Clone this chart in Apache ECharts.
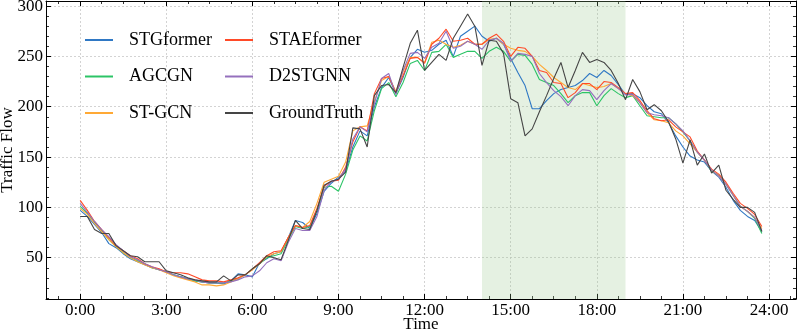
<!DOCTYPE html>
<html>
<head>
<meta charset="utf-8">
<script src="https://cdn.jsdelivr.net/npm/echarts@6/dist/echarts.min.js"></script>
<style>
  html, body { margin: 0; padding: 0; background: #fff; }
  #chart { width: 797px; height: 335px; }
</style>
</head>
<body>
<div id="chart"></div>
<script>
// 15 分钟采样，一天 96 个点（单位：小时）
const times = [];
for (let i = 0; i < 96; i++) times.push(i * 0.25);

// 高亮区间（小时）
const shadeStart = 14;
const shadeEnd = 19;

const stgformer = [
  97, 91, 83, 75, 64, 60, 54, 49, 46, 43, 40, 38,
  36, 33, 31, 29, 27, 26, 25, 25, 24, 27, 34, 33,
  31, 45, 49, 54, 56, 70, 87, 85, 79, 94, 116, 124,
  130, 136, 160, 176, 171, 200, 219, 229, 213, 229, 249, 257,
  254, 256, 262, 266, 250, 270, 275, 280, 270, 265, 268, 262,
  248, 234, 221, 198, 198, 206, 213, 217, 219, 221, 226, 233,
  229, 236, 231, 222, 212, 213, 209, 201, 195, 193, 184, 171,
  160, 151, 147, 145, 136, 130, 120, 107, 97, 91, 87, 76
];
const agcgn = [
  101, 94, 85, 77, 68, 61, 55, 50, 47, 44, 40, 38,
  36, 33, 31, 29, 27, 26, 25, 25, 25, 27, 29, 33,
  39, 44, 50, 52, 54, 68, 81, 79, 81, 97, 120, 121,
  116, 133, 157, 171, 166, 196, 218, 224, 210, 224, 243, 246,
  236, 254, 255, 262, 249, 252, 255, 255, 248, 255, 259, 255,
  245, 252, 251, 242, 227, 224, 221, 213, 204, 211, 214, 214,
  201, 211, 218, 213, 209, 211, 201, 191, 190, 189, 189, 183,
  175, 166, 155, 147, 136, 132, 123, 112, 101, 96, 89, 74
];
const stgcn = [
  99, 93, 84, 76, 68, 61, 55, 50, 46, 43, 40, 38,
  35, 32, 30, 28, 26, 23, 23, 22, 23, 26, 29, 33,
  38, 44, 51, 54, 56, 70, 82, 80, 86, 104, 125, 128,
  131, 145, 176, 180, 181, 205, 226, 230, 215, 235, 249, 249,
  244, 264, 266, 262, 259, 261, 265, 262, 262, 267, 268, 262,
  258, 256, 255, 250, 242, 236, 229, 224, 219, 217, 223, 221,
  219, 220, 223, 218, 213, 211, 204, 194, 187, 186, 184, 176,
  171, 163, 155, 147, 137, 131, 123, 112, 101, 96, 90, 79
];
const staeformer = [
  107, 97, 86, 78, 70, 62, 57, 52, 49, 44, 41, 39,
  36, 35, 35, 34, 31, 28, 27, 27, 26, 28, 30, 33,
  39, 45, 52, 56, 57, 70, 82, 80, 82, 99, 121, 126,
  127, 140, 165, 180, 176, 213, 228, 230, 214, 231, 248, 249,
  243, 262, 268, 277, 265, 266, 268, 262, 262, 268, 272, 265,
  250, 259, 258, 250, 236, 234, 224, 223, 209, 214, 223, 223,
  217, 225, 224, 219, 213, 214, 206, 196, 188, 186, 187, 180,
  175, 170, 156, 147, 138, 133, 125, 114, 104, 99, 93, 81
];
const d2stgnn = [
  104, 95, 86, 78, 71, 63, 57, 51, 48, 44, 41, 38,
  36, 33, 31, 29, 28, 26, 25, 25, 25, 26, 28, 31,
  32, 37, 45, 49, 47, 65, 79, 77, 77, 91, 117, 126,
  128, 138, 168, 180, 175, 203, 228, 233, 212, 236, 253, 254,
  248, 259, 263, 275, 258, 260, 265, 262, 257, 266, 268, 263,
  245, 253, 252, 250, 233, 224, 216, 210, 201, 211, 217, 216,
  207, 216, 223, 218, 212, 212, 204, 194, 192, 191, 189, 183,
  176, 166, 155, 147, 137, 131, 123, 112, 101, 96, 90, 77
];
const groundTruth = [
  91, 91, 78, 74, 74, 62, 57, 52, 51, 46, 46, 46,
  37, 35, 33, 30, 28, 27, 26, 26, 32, 27, 33, 33,
  39, 44, 52, 50, 48, 67, 87, 79, 78, 97, 122, 126,
  128, 135, 179, 178, 160, 211, 221, 222, 214, 239, 263, 276,
  236, 244, 252, 246, 268, 280, 292, 280, 241, 266, 265, 253,
  208, 204, 171, 178, 195, 211, 228, 244, 219, 236, 254, 244,
  247, 244, 236, 223, 207, 227, 215, 197, 202, 196, 185, 168,
  144, 167, 142, 153, 134, 142, 117, 108, 100, 100, 95, 76
];

const seriesDefs = [
  { name: 'STGformer', data: stgformer, color: '#2f78c4' },
  { name: 'AGCGN', data: agcgn, color: '#2cc466' },
  { name: 'ST-GCN', data: stgcn, color: '#ffa935' },
  { name: 'STAEformer', data: staeformer, color: '#ff4a28' },
  { name: 'D2STGNN', data: d2stgnn, color: '#9570bd' },
  { name: 'GroundTruth', data: groundTruth, color: '#454545' }
];

const FONT = 'Liberation Serif';

function xLabel(v) {
  if (Math.abs(v % 3) > 1e-6) return '';
  return Math.round(v) + ':00';
}
function yLabel(v) {
  if (Math.abs(v % 50) > 1e-6) return '';
  return String(Math.round(v));
}

const chart = echarts.init(document.getElementById('chart'), null, { renderer: 'canvas' });

const tickStyle = { lineStyle: { color: '#000', width: 1 } };
const gridLine = { show: true, lineStyle: { color: '#c8c8c8', type: [2, 2], width: 0.8 } };

function makeX(pos, main) {
  return {
    type: 'value',
    position: pos,
    min: -1.19,
    max: 24.94,
    splitNumber: 8,
    name: main ? 'Time' : '',
    nameLocation: 'middle',
    nameGap: 17,
    nameMoveOverlap: false,
    nameTextStyle: { fontFamily: FONT, fontSize: 17, color: '#000' },
    axisLine: { show: true, onZero: false, lineStyle: { color: '#000', width: 1 } },
    axisTick: { show: true, inside: true, length: 5, ...tickStyle },
    minorTick: { show: true, splitNumber: 4, length: 3, lineStyle: { color: '#000', width: 0.8 } },
    splitLine: main ? gridLine : { show: false },
    axisLabel: {
      show: main, formatter: xLabel, margin: 3,
      fontFamily: FONT, fontSize: 17, color: '#000',
      showMinLabel: false, showMaxLabel: false
    }
  };
}
function makeY(pos, main) {
  return {
    type: 'value',
    position: pos,
    min: 9,
    max: 305,
    splitNumber: 6,
    name: main ? 'Traffic Flow' : '',
    nameLocation: 'middle',
    nameGap: 30,
    nameMoveOverlap: false,
    nameTextStyle: { fontFamily: FONT, fontSize: 17, color: '#000' },
    axisLine: { show: true, onZero: false, lineStyle: { color: '#000', width: 1 } },
    axisTick: { show: true, inside: true, length: 5, ...tickStyle },
    minorTick: { show: true, splitNumber: 5, length: 3, lineStyle: { color: '#000', width: 0.8 } },
    splitLine: main ? gridLine : { show: false },
    axisLabel: {
      show: main, formatter: yLabel, margin: 3,
      fontFamily: FONT, fontSize: 17, color: '#000',
      showMinLabel: false, showMaxLabel: false
    }
  };
}

const series = [{
  name: 'shade',
  type: 'line',
  data: [],
  silent: true,
  z: 1,
  markArea: {
    silent: true,
    itemStyle: { color: 'rgba(150, 200, 140, 0.25)' },
    data: [[{ xAxis: shadeStart }, { xAxis: shadeEnd }]]
  }
}];
seriesDefs.forEach((s, i) => {
  series.push({
    name: s.name,
    type: 'line',
    data: times.map((t, k) => [t, s.data[k]]),
    showSymbol: false,
    symbol: 'none',
    z: 2 + i,
    lineStyle: { color: s.color, width: 1.1 },
    itemStyle: { color: s.color },
    animation: false
  });
});

const legendText = { fontFamily: FONT, fontSize: 18, color: '#000', padding: [0, 0, 0, 11] };

chart.setOption({
  animation: false,
  backgroundColor: '#fff',
  grid: { left: 46, right: 1, top: 1, bottom: 36, containLabel: false, outerBoundsMode: 'none' },
  xAxis: [makeX('bottom', true), makeX('top', false)],
  yAxis: [makeY('left', true), makeY('right', false)],
  legend: [
    {
      data: ['STGformer', 'AGCGN', 'ST-GCN'],
      orient: 'vertical', left: 85, top: 31, padding: 0,
      itemWidth: 28, itemHeight: 2, itemGap: 18.5,
      icon: 'rect', textStyle: legendText
    },
    {
      data: ['STAEformer', 'D2STGNN', 'GroundTruth'],
      orient: 'vertical', left: 225, top: 31, padding: 0,
      itemWidth: 28, itemHeight: 2, itemGap: 18.5,
      icon: 'rect', textStyle: legendText
    }
  ],
  series: series
});
</script>
</body>
</html>
